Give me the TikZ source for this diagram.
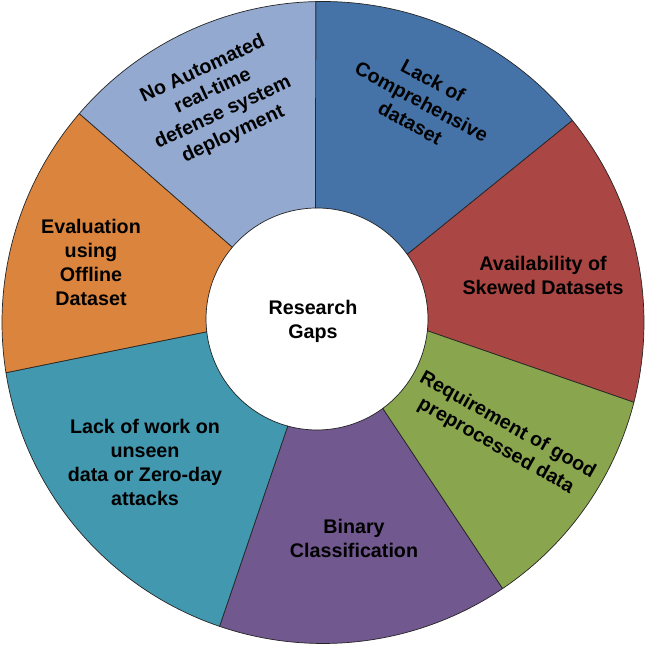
\documentclass[tikz,border=0pt]{standalone}
\usepackage{fontspec}
\setmainfont{Liberation Sans}
\usetikzlibrary{calc}
\definecolor{cblue}{HTML}{4572A7}
\definecolor{cred}{HTML}{AA4643}
\definecolor{cgreen}{HTML}{89A54E}
\definecolor{cpurple}{HTML}{71588F}
\definecolor{cteal}{HTML}{4198AF}
\definecolor{corange}{HTML}{DB843D}
\definecolor{clblue}{HTML}{93A9CF}
\tikzset{
  seg/.style={draw=black!85, line width=0.7pt, line join=round},
  lbl/.style={align=center, inner sep=0pt, text=black,
    font=\fontsize{19.7}{24}\selectfont\bfseries},
}
\newcommand{\mkseg}[5]{% color, theta1, theta2, phi1, phi2
  \filldraw[seg, fill=#1] (oc) ++(#2:321) arc[start angle=#2, end angle=#3, radius=321]
    -- ($(ic)+(#5:111)$) arc[start angle=#5, end angle=#4, radius=111] -- cycle;}
\begin{document}
\begin{tikzpicture}[x=1pt,y=1pt]
\useasboundingbox (0,0) rectangle (646,647);
\fill[white] (0,0) rectangle (646,647);
\coordinate (oc) at (323,324.5);
\coordinate (ic) at (317,328);
\mkseg{cblue}{91.3}{39.0}{90.8}{35.6}
\mkseg{cred}{39.0}{-14.4}{35.6}{-6.1}
\mkseg{cgreen}{-14.4}{-56.0}{-6.1}{-53.7}
\mkseg{cpurple}{-56.0}{-108.8}{-53.7}{-105.3}
\mkseg{cteal}{-108.8}{-171.0}{-105.3}{-173.4}
\mkseg{corange}{-171.0}{-220.6}{-173.4}{-220.3}
\mkseg{clblue}{-220.6}{-268.7}{-220.3}{-269.2}
\node[lbl] (center) at (313,326) {Research\\Gaps};
\node[lbl, rotate=-28.3] (t1) at (421.7,545.3) {Lack of\\Comprehensive\\dataset};
\node[lbl] (t2) at (543,372) {Availability of\\Skewed Datasets};
\node[lbl, rotate=-29.3] (t3) at (501.7,211.2) {Requirement of good\\preprocessed data};
\node[lbl] (t4) at (354,109) {Binary\\Classification};
\node[lbl] (t5) at (145,184.5) {Lack of work on\\unseen\\data or Zero-day\\attacks};
\node[lbl] (t6) at (91,384.5) {Evaluation\\using\\Offline\\Dataset};
\node[lbl, rotate=25] (t7) at (218,545) {No Automated\\real-time\\defense system\\deployment};
\end{tikzpicture}
\end{document}
